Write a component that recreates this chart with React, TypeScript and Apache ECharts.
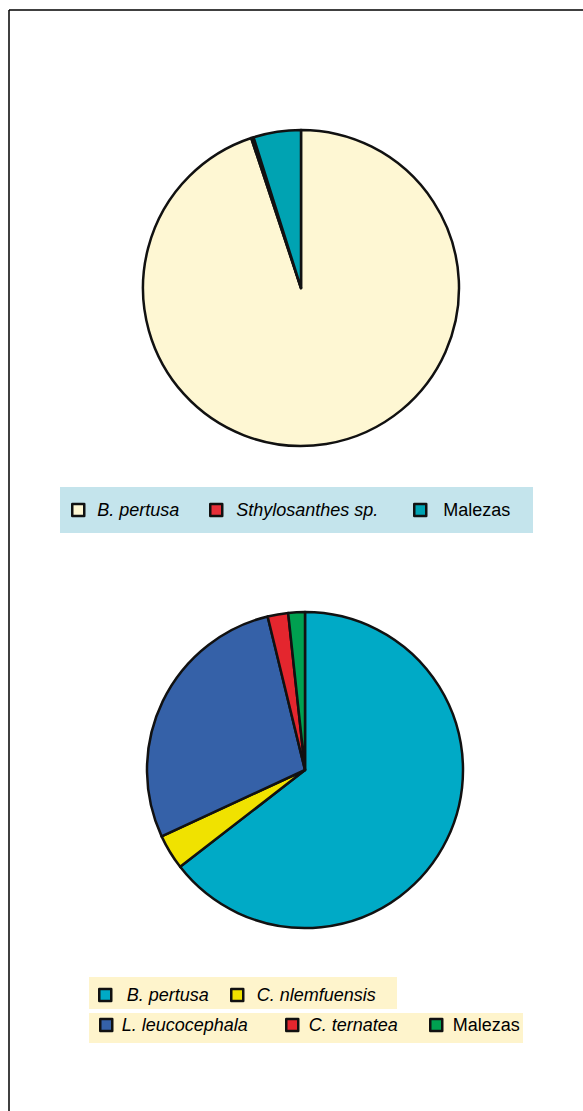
import React, { useEffect, useRef } from "react";
import * as echarts from "echarts";

// Pie 1 data
const pie1Names = ["B. pertusa", "Sthylosanthes sp.", "Malezas"];
const pie1Values = [94.9, 0.25, 4.85];
const pie1Colors = ["#FEF7D3", "#E8303A", "#00A3B2"];

// Pie 2 data
const pie2Names = ["B. pertusa", "C. nlemfuensis", "L. leucocephala", "C. ternatea", "Malezas"];
const pie2Values = [64.5, 3.6, 28.1, 2.1, 1.7];
const pie2Colors = ["#00AAC6", "#F0E200", "#3561A8", "#E4262E", "#00A050"];

// Legend layout: [series index, item index, left, centerY, textPad]
const legendLayout: [number, number, number, number, number][] = [
  [0, 0, 71, 510, 8],
  [0, 1, 209, 510, 9],
  [0, 2, 413, 510, 12],
  [1, 0, 98, 995, 10.5],
  [1, 1, 230, 995, 8.5],
  [1, 2, 99, 1025, 4.5],
  [1, 3, 285, 1025, 5.5],
  [1, 4, 429, 1025, 5.5],
];

const FONT = "'Liberation Sans', Arial, sans-serif";

export default function App() {
  const ref = useRef<HTMLDivElement>(null);
  useEffect(() => {
    document.body.style.margin = "0";
    const chart = echarts.init(ref.current!, null, { renderer: "svg" });
    const names = [pie1Names, pie2Names];
    const colors = [pie1Colors, pie2Colors];
    const legends = legendLayout.map(([s, i, left, cy, pad]) => ({
      left,
      top: cy - 9,
      padding: 0,
      orient: "horizontal",
      selectedMode: false,
      itemWidth: 12,
      itemHeight: 12,
      icon: "rect",
      itemStyle: { borderColor: "#111", borderWidth: 2.5 },
      textStyle: {
        fontFamily: FONT,
        fontSize: 18,
        lineHeight: 18,
        color: "#000",
        fontStyle: names[s][i] === "Malezas" ? "normal" : "italic",
        padding: [0, 0, 0, pad],
      },
      data: [
        {
          name: names[s][i],
          itemStyle: { color: colors[s][i], borderColor: "#111", borderWidth: 2.5 },
        },
      ],
    }));
    const mkData = (n: string[], v: number[], c: string[]) =>
      n.map((name, i) => ({ name, value: v[i], itemStyle: { color: c[i] } }));
    chart.setOption({
      animation: false,
      backgroundColor: "#ffffff",
      graphic: [
        { type: "rect", shape: { x: 60, y: 487, width: 473, height: 46 }, style: { fill: "#C4E4EC" }, z: -10 },
        { type: "rect", shape: { x: 89, y: 977, width: 308, height: 32 }, style: { fill: "#FEF4CC" }, z: -10 },
        { type: "rect", shape: { x: 89, y: 1013, width: 434, height: 30 }, style: { fill: "#FEF4CC" }, z: -10 },
        { type: "line", shape: { x1: 9, y1: 10, x2: 583, y2: 10 }, style: { stroke: "#000", lineWidth: 1.5 } },
        { type: "line", shape: { x1: 9, y1: 10, x2: 9, y2: 1111 }, style: { stroke: "#000", lineWidth: 1.5 } },
      ],
      legend: legends,
      series: [
        {
          type: "pie",
          center: [301, 288],
          radius: 158,
          startAngle: 90,
          clockwise: true,
          label: { show: false },
          labelLine: { show: false },
          emphasis: { disabled: true },
          itemStyle: { borderColor: "#111", borderWidth: 2.5 },
          data: mkData(pie1Names, pie1Values, pie1Colors),
        },
        {
          type: "pie",
          center: [305, 770],
          radius: 158,
          startAngle: 90,
          clockwise: true,
          label: { show: false },
          labelLine: { show: false },
          emphasis: { disabled: true },
          itemStyle: { borderColor: "#111", borderWidth: 2.5 },
          data: mkData(pie2Names, pie2Values, pie2Colors),
        },
      ],
    });
    return () => chart.dispose();
  }, []);
  return <div ref={ref} style={{ width: 583, height: 1111 }} />;
}
